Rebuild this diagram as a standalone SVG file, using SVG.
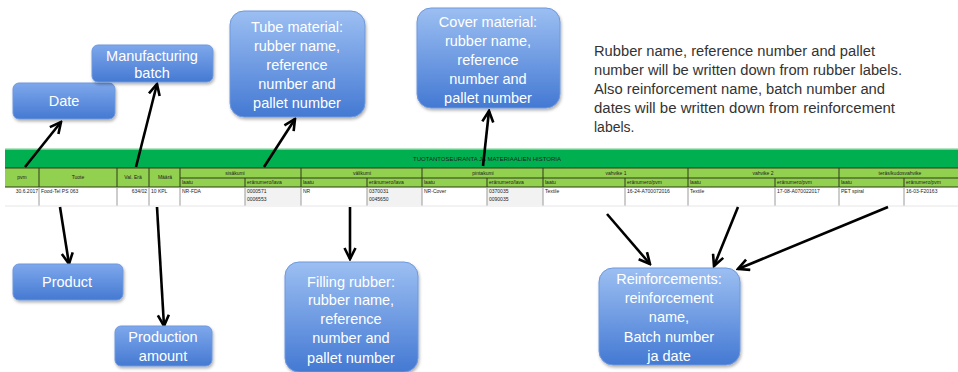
<svg xmlns="http://www.w3.org/2000/svg" width="958" height="372" viewBox="0 0 958 372">
<defs>
<linearGradient id="bg" x1="0" y1="0" x2="0" y2="1">
<stop offset="0" stop-color="#9cbff2"/>
<stop offset="1" stop-color="#4479d3"/>
</linearGradient>
<linearGradient id="bgs" x1="0" y1="0" x2="0" y2="1">
<stop offset="0" stop-color="#7ea8ec"/>
<stop offset="1" stop-color="#4579d2"/>
</linearGradient>
<filter id="sh" x="-10%" y="-10%" width="125%" height="130%">
<feDropShadow dx="1" dy="2" stdDeviation="1.5" flood-color="#000" flood-opacity="0.3"/>
</filter>
<marker id="ah" markerUnits="userSpaceOnUse" viewBox="0 0 14 14" markerWidth="14" markerHeight="14" refX="12" refY="7" orient="auto">
<path d="M1,1.5 L12,7 L1,12.5" fill="none" stroke="#000" stroke-width="2.6"/>
</marker>
</defs>
<style>
.box{fill:url(#bg);stroke:#6f98dc;stroke-width:1;filter:url(#sh)}
.sbox{fill:url(#bgs);stroke:#6f98dc;stroke-width:1;filter:url(#sh)}
.bt{font-family:"Liberation Sans",Arial,sans-serif;font-size:14.5px;fill:#fff;text-anchor:middle}
.note{font-family:"Liberation Sans",Arial,sans-serif;font-size:14px;fill:#333}
.con{stroke:#000;stroke-width:2.6;fill:none;marker-end:url(#ah)}
.tt{font-family:"Liberation Sans",Arial,sans-serif;font-size:5px;fill:#222}
.th{font-family:"Liberation Sans",Arial,sans-serif;font-size:5px;fill:#222;text-anchor:middle}
.dl{stroke:#2d3a1a;stroke-width:1}
.gl{stroke:#9a9a9a;stroke-width:1}
</style>
<rect width="958" height="372" fill="#fff"/>

<g id="table">
<rect x="5" y="148" width="953" height="1.5" fill="#b7e4c3"/>
<rect x="5" y="149.5" width="953" height="18.5" fill="#00b050"/>
<text x="487" y="161" class="th" style="font-size:6px">TUOTANTOSEURANTA JA MATERIAALIEN HISTORIA</text>
<rect x="5" y="168" width="953" height="19" fill="#92d050"/>
<rect x="5" y="187" width="953" height="19" fill="#fff"/>
<rect x="245" y="188" width="56" height="17" fill="#f2f2f2"/>
<rect x="367" y="188" width="55" height="17" fill="#f2f2f2"/>
<rect x="487" y="188" width="56" height="17" fill="#f2f2f2"/>
<line x1="5" y1="168" x2="958" y2="168" class="dl" stroke-width="1.5"/>
<line x1="180" y1="178" x2="958" y2="178" class="dl"/>
<line x1="5" y1="187" x2="958" y2="187" class="dl" stroke-width="1.2"/>
<g class="dl">
<line x1="39" y1="168" x2="39" y2="187"/>
<line x1="117" y1="168" x2="117" y2="187"/>
<line x1="149" y1="168" x2="149" y2="187"/>
<line x1="180" y1="168" x2="180" y2="187"/>
<line x1="301" y1="168" x2="301" y2="187"/>
<line x1="422" y1="168" x2="422" y2="187"/>
<line x1="543" y1="168" x2="543" y2="187"/>
<line x1="688" y1="168" x2="688" y2="187"/>
<line x1="839" y1="168" x2="839" y2="187"/>
<line x1="245" y1="178" x2="245" y2="187"/>
<line x1="367" y1="178" x2="367" y2="187"/>
<line x1="487" y1="178" x2="487" y2="187"/>
<line x1="625" y1="178" x2="625" y2="187"/>
<line x1="775" y1="178" x2="775" y2="187"/>
<line x1="904" y1="178" x2="904" y2="187"/>
</g>
<g class="gl">
<line x1="39" y1="187" x2="39" y2="206"/>
<line x1="117" y1="187" x2="117" y2="206"/>
<line x1="149" y1="187" x2="149" y2="206"/>
<line x1="180" y1="187" x2="180" y2="206"/>
<line x1="245" y1="187" x2="245" y2="206"/>
<line x1="301" y1="187" x2="301" y2="206"/>
<line x1="367" y1="187" x2="367" y2="206"/>
<line x1="422" y1="187" x2="422" y2="206"/>
<line x1="487" y1="187" x2="487" y2="206"/>
<line x1="543" y1="187" x2="543" y2="206"/>
<line x1="625" y1="187" x2="625" y2="206"/>
<line x1="688" y1="187" x2="688" y2="206"/>
<line x1="775" y1="187" x2="775" y2="206"/>
<line x1="839" y1="187" x2="839" y2="206"/>
<line x1="904" y1="187" x2="904" y2="206"/>
</g>
<line x1="5" y1="206" x2="958" y2="206" stroke="#e6e6e6" stroke-width="1"/>
<text x="22" y="179" class="th">pvm</text>
<text x="78" y="179" class="th">Tuote</text>
<text x="133" y="179" class="th">Val. Erä</text>
<text x="165" y="179" class="th">Määrä</text>
<text x="235" y="175" class="th">sisäkumi</text>
<text x="362" y="175" class="th">välikumi</text>
<text x="483" y="175" class="th">pintakumi</text>
<text x="616" y="175" class="th">vahvike 1</text>
<text x="763" y="175" class="th">vahvike 2</text>
<text x="900" y="175" class="th">teräs/kudosvahvike</text>
<text x="182" y="184" class="tt">laatu</text>
<text x="247" y="184" class="tt">eränumero/lava</text>
<text x="303" y="184" class="tt">laatu</text>
<text x="369" y="184" class="tt">eränumero/lava</text>
<text x="424" y="184" class="tt">laatu</text>
<text x="489" y="184" class="tt">eränumero/lava</text>
<text x="545" y="184" class="tt">laatu</text>
<text x="627" y="184" class="tt">eränumero/pvm</text>
<text x="690" y="184" class="tt">laatu</text>
<text x="777" y="184" class="tt">eränumero/pvm</text>
<text x="841" y="184" class="tt">laatu</text>
<text x="906" y="184" class="tt">eränumero/pvm</text>
<text x="38" y="193" class="tt" text-anchor="end">30.6.2017</text>
<text x="41" y="193" class="tt">Food-Tel PS 063</text>
<text x="147" y="193" class="tt" text-anchor="end">634/02</text>
<text x="151" y="193" class="tt">10 KPL</text>
<text x="182" y="193" class="tt">NR-FDA</text>
<text x="247" y="193" class="tt">0000571</text>
<text x="247" y="201" class="tt">0006553</text>
<text x="303" y="193" class="tt">NR</text>
<text x="369" y="193" class="tt">0370031</text>
<text x="369" y="201" class="tt">0045650</text>
<text x="424" y="193" class="tt">NR-Cover</text>
<text x="489" y="193" class="tt">0370035</text>
<text x="489" y="201" class="tt">0090035</text>
<text x="545" y="193" class="tt">Textile</text>
<text x="627" y="193" class="tt">16-24-A700072016</text>
<text x="690" y="193" class="tt">Textile</text>
<text x="777" y="193" class="tt">17-08-A070022017</text>
<text x="841" y="193" class="tt">PET spiral</text>
<text x="906" y="193" class="tt">16-03-F20163</text>
</g>

<g id="connectors">
<line class="con" x1="25" y1="167" x2="61" y2="122"/>
<line class="con" x1="136" y1="167" x2="157" y2="84"/>
<line class="con" x1="264" y1="167" x2="295" y2="119"/>
<line class="con" x1="483" y1="166" x2="489" y2="111"/>
<line class="con" x1="60" y1="207" x2="69" y2="264"/>
<line class="con" x1="157" y1="207" x2="164" y2="326"/>
<line class="con" x1="350" y1="207" x2="350" y2="259"/>
<line class="con" x1="607" y1="214" x2="650" y2="264"/>
<line class="con" x1="738" y1="207" x2="714" y2="266"/>
<line class="con" x1="888" y1="207" x2="738" y2="269"/>
</g>

<g id="date">
<rect class="sbox" x="13" y="83" width="102" height="36" rx="6"/>
<text class="bt" x="64" y="106">Date</text>
</g>
<g id="manufacturing-batch">
<rect class="sbox" x="92" y="45" width="121" height="37" rx="6"/>
<text class="bt" x="152" y="61">Manufacturing</text>
<text class="bt" x="152" y="78">batch</text>
</g>
<g id="tube-material">
<rect class="box" x="230" y="11" width="135" height="106" rx="14"/>
<text class="bt" x="297" y="32">Tube material:</text>
<text class="bt" x="297" y="51">rubber name,</text>
<text class="bt" x="297" y="70">reference</text>
<text class="bt" x="297" y="89">number and</text>
<text class="bt" x="297" y="108">pallet number</text>
</g>
<g id="cover-material">
<rect class="box" x="417" y="8" width="143" height="100" rx="14"/>
<text class="bt" x="488" y="27">Cover material:</text>
<text class="bt" x="488" y="46">rubber name,</text>
<text class="bt" x="488" y="65">reference</text>
<text class="bt" x="488" y="84">number and</text>
<text class="bt" x="488" y="103">pallet number</text>
</g>
<g id="note">
<text class="note" x="594" y="56" textLength="281" lengthAdjust="spacingAndGlyphs">Rubber name, reference number and pallet</text>
<text class="note" x="594" y="75" textLength="308" lengthAdjust="spacingAndGlyphs">number will be written down from rubber labels.</text>
<text class="note" x="594" y="94" textLength="291" lengthAdjust="spacingAndGlyphs">Also reinforcement name, batch number and</text>
<text class="note" x="594" y="113" textLength="301" lengthAdjust="spacingAndGlyphs">dates will be written down from reinforcement</text>
<text class="note" x="594" y="132">labels.</text>
</g>
<g id="product">
<rect class="sbox" x="13" y="264" width="110" height="36" rx="6"/>
<text class="bt" x="67" y="287">Product</text>
</g>
<g id="production-amount">
<rect class="sbox" x="115" y="326" width="97" height="40" rx="6"/>
<text class="bt" x="163" y="342">Production</text>
<text class="bt" x="163" y="361">amount</text>
</g>
<g id="filling-rubber">
<rect class="box" x="285" y="262" width="133" height="110" rx="14"/>
<text class="bt" x="351" y="287">Filling rubber:</text>
<text class="bt" x="351" y="305">rubber name,</text>
<text class="bt" x="351" y="324">reference</text>
<text class="bt" x="351" y="343">number and</text>
<text class="bt" x="351" y="363">pallet number</text>
</g>
<g id="reinforcements">
<rect class="box" x="599" y="268" width="141" height="97" rx="14"/>
<text class="bt" x="669" y="284">Reinforcements:</text>
<text class="bt" x="669" y="303">reinforcement</text>
<text class="bt" x="669" y="322">name,</text>
<text class="bt" x="669" y="342">Batch number</text>
<text class="bt" x="669" y="361">ja date</text>
</g>
</svg>
